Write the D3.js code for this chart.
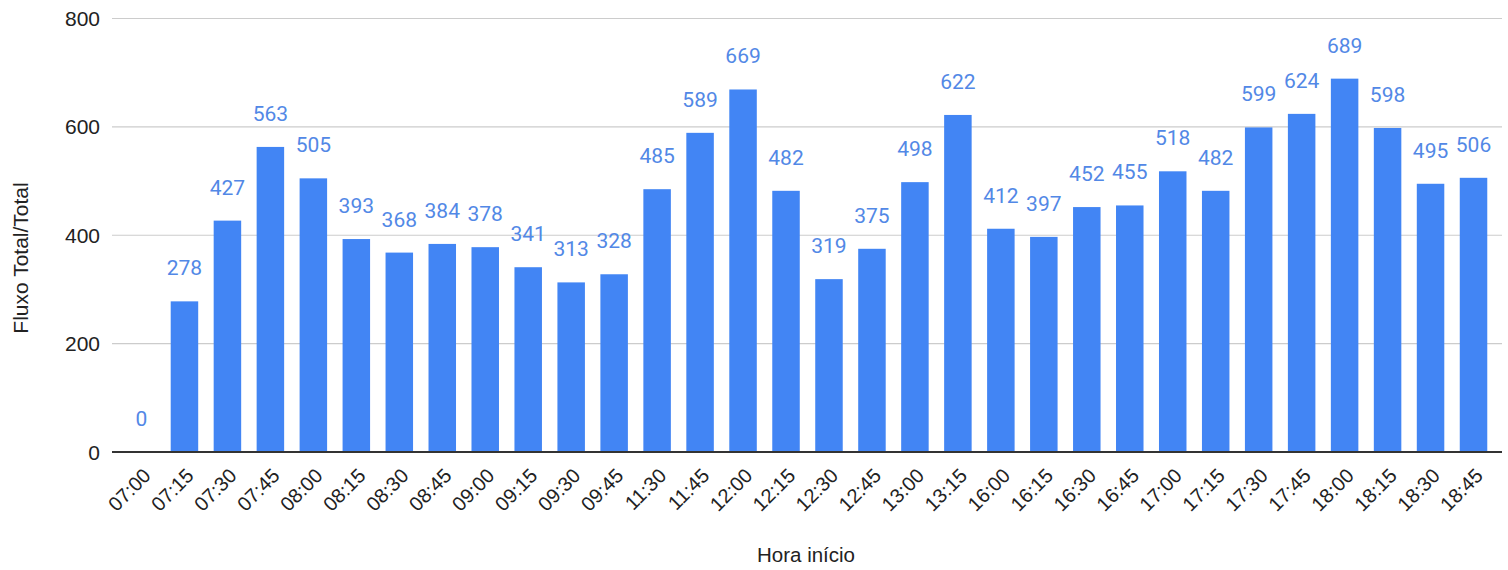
<!DOCTYPE html>
<html>
<head>
<meta charset="utf-8">
<script src="https://cdn.jsdelivr.net/npm/d3@7"></script>
<style>
  html, body { margin: 0; padding: 0; background: #fff; }
  svg { display: block; }
</style>
</head>
<body>
<svg id="chart" width="1508" height="570"></svg>
<script>
// Time slots (start hour of each 15-minute count)
const categories = ["07:00","07:15","07:30","07:45","08:00","08:15","08:30","08:45","09:00","09:15","09:30","09:45",
  "11:30","11:45","12:00","12:15","12:30","12:45","13:00","13:15",
  "16:00","16:15","16:30","16:45","17:00","17:15","17:30","17:45","18:00","18:15","18:30","18:45"];
// Total flow per slot
const values = [0,278,427,563,505,393,368,384,378,341,313,328,
  485,589,669,482,319,375,498,622,
  412,397,452,455,518,482,599,624,689,598,495,506];
const yTicks = [0, 200, 400, 600, 800];

const svg = d3.select("#chart");
const plotLeft = 112, plotRight = 1502, plotTop = 18.5, plotBottom = 452;
const axisFont = "Arial, 'Liberation Sans', sans-serif";

const x = d3.scaleBand().domain(categories).range([120, 1495]).paddingInner(0.36).paddingOuter(0.18);
const y = d3.scaleLinear().domain([0, 800]).range([plotBottom, plotTop]);

// gridlines
svg.append("g").selectAll("line").data(yTicks.filter(d => d > 0)).join("line")
  .attr("x1", plotLeft).attr("x2", plotRight)
  .attr("y1", d => y(d)).attr("y2", d => y(d))
  .attr("stroke", "#cccccc").attr("stroke-width", 1.2);

// y tick labels
svg.append("g").selectAll("text").data(yTicks).join("text")
  .attr("x", 100).attr("y", d => y(d)).attr("dy", "0.36em")
  .attr("text-anchor", "end")
  .attr("font-family", axisFont).attr("font-size", 21)
  .attr("fill", "#222").text(d => d);

// bars
svg.append("g").selectAll("rect").data(values).join("rect")
  .attr("x", (d, i) => x(categories[i]))
  .attr("width", x.bandwidth())
  .attr("y", d => y(d))
  .attr("height", d => plotBottom - y(d))
  .attr("fill", "#4285f4");

// baseline
svg.append("line").attr("x1", plotLeft).attr("x2", plotRight)
  .attr("y1", plotBottom).attr("y2", plotBottom)
  .attr("stroke", "#333").attr("stroke-width", 2);

// value labels
svg.append("g").selectAll("text").data(values).join("text")
  .attr("x", (d, i) => x(categories[i]) + x.bandwidth() / 2)
  .attr("y", d => y(d) - 26)
  .attr("text-anchor", "middle")
  .attr("font-family", "Roboto, Arial, sans-serif").attr("font-size", 21)
  .attr("fill", "#5288e6").text(d => d);

// x tick labels, rotated
svg.append("g").selectAll("text").data(categories).join("text")
  .attr("transform", d => `translate(${x(d) + x.bandwidth() / 2 + 10.5},${plotBottom + 25}) rotate(-45)`)
  .attr("text-anchor", "end")
  .attr("font-family", axisFont).attr("font-size", 20)
  .attr("fill", "#222").text(d => d);

// axis titles
svg.append("text")
  .attr("x", 806).attr("y", 562)
  .attr("text-anchor", "middle")
  .attr("font-family", axisFont).attr("font-size", 20.5)
  .attr("fill", "#222").text("Hora início");

svg.append("text")
  .attr("transform", `translate(28,258) rotate(-90)`)
  .attr("text-anchor", "middle")
  .attr("font-family", axisFont).attr("font-size", 21)
  .attr("fill", "#222").text("Fluxo Total/Total");
</script>
</body>
</html>
